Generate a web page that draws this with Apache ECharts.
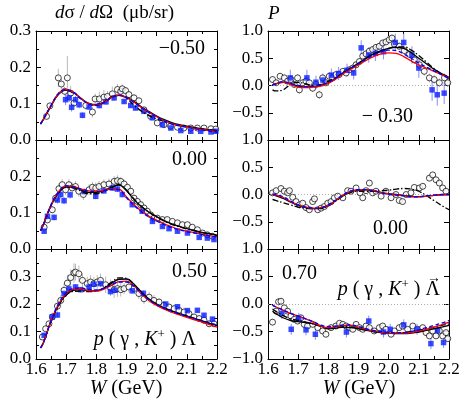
<!DOCTYPE html>
<html>
<head>
<meta charset="utf-8">
<script src="https://cdn.jsdelivr.net/npm/echarts@6/dist/echarts.min.js"></script>
<style>
html, body { margin: 0; padding: 0; background: #fff; }
#chart { width: 463px; height: 405px; }
</style>
</head>
<body>
<div id="chart"></div>
<script>
// energy grid (GeV) on which the model curves are sampled
var W_GRID = [1.615,1.625,1.65,1.675,1.7,1.725,1.75,1.775,1.8,1.825,1.85,1.875,1.9,1.925,1.95,1.975,2.0,2.025,2.05,2.075,2.1,2.125,2.15,2.175,2.2];

// dsigma/dOmega, cos = -0.50
var L1_RED = [0.045,0.058,0.095,0.128,0.139,0.131,0.114,0.100,0.096,0.103,0.117,0.124,0.117,0.104,0.089,0.076,0.064,0.053,0.045,0.040,0.036,0.032,0.029,0.026,0.023];
var L1_BLK = [0.044,0.057,0.094,0.126,0.137,0.130,0.114,0.101,0.097,0.104,0.117,0.123,0.118,0.106,0.091,0.078,0.066,0.056,0.048,0.042,0.038,0.034,0.031,0.028,0.026];
var L1_BLU = [0.045,0.058,0.096,0.129,0.139,0.131,0.113,0.099,0.095,0.102,0.116,0.123,0.116,0.103,0.088,0.075,0.063,0.052,0.044,0.039,0.035,0.031,0.028,0.025,0.022];
var L1_DD  = [0.044,0.057,0.094,0.127,0.137,0.129,0.113,0.100,0.096,0.104,0.118,0.124,0.114,0.096,0.079,0.067,0.058,0.051,0.045,0.040,0.036,0.033,0.030,0.028,0.026];
var L1_CIRC = [[1.635,0.065,0.008],[1.646,0.094,0.008],[1.674,0.171,0.025],[1.684,0.154,0.015],[1.695,0.134,0.012],[1.704,0.171,0.06],[1.715,0.129,0.02],[1.726,0.102,0.012],[1.765,0.095,0.012],[1.787,0.077,0.015],[1.796,0.113,0.015],[1.81,0.113,0.02],[1.825,0.118,0.02],[1.837,0.12,0.015],[1.853,0.127,0.02],[1.87,0.139,0.015],[1.881,0.134,0.012],[1.886,0.141,0.012],[1.897,0.136,0.01],[1.908,0.125,0.01],[1.925,0.116,0.01],[1.941,0.108,0.008],[1.958,0.083,0.006],[1.98,0.065,0.005],[2.002,0.047,0.004],[2.024,0.042,0.004],[2.046,0.038,0.004],[2.069,0.035,0.004],[2.09,0.033,0.004],[2.113,0.033,0.004],[2.135,0.033,0.004],[2.157,0.033,0.004],[2.18,0.031,0.004],[2.196,0.03,0.004]];
var L1_SQ = [[1.698,0.111,0.015],[1.71,0.116,0.012],[1.718,0.09,0.012],[1.731,0.111,0.01],[1.743,0.097,0.01],[1.754,0.068,0.008],[1.776,0.091,0.008],[1.81,0.095,0.008],[1.832,0.105,0.008],[1.859,0.116,0.008],[1.892,0.106,0.007],[1.914,0.095,0.007],[1.93,0.088,0.006],[1.958,0.079,0.006],[1.986,0.061,0.005],[2.019,0.042,0.004],[2.047,0.033,0.004],[2.08,0.026,0.003],[2.113,0.024,0.003],[2.146,0.024,0.003],[2.18,0.022,0.003],[2.196,0.024,0.003]];

// dsigma/dOmega, cos = 0.00
var L2_RED = [0.050,0.068,0.122,0.158,0.174,0.172,0.165,0.160,0.159,0.161,0.166,0.165,0.143,0.122,0.104,0.090,0.079,0.069,0.061,0.054,0.049,0.045,0.041,0.037,0.034];
var L2_BLK = [0.050,0.068,0.120,0.155,0.171,0.170,0.162,0.156,0.156,0.161,0.170,0.176,0.160,0.136,0.116,0.101,0.089,0.078,0.069,0.062,0.056,0.051,0.046,0.042,0.038];
var L2_BLU = [0.050,0.068,0.122,0.158,0.174,0.171,0.164,0.159,0.158,0.160,0.165,0.163,0.141,0.120,0.102,0.088,0.077,0.067,0.059,0.053,0.048,0.044,0.040,0.036,0.033];
var L2_DD  = [0.050,0.068,0.120,0.155,0.170,0.168,0.159,0.152,0.152,0.158,0.168,0.177,0.162,0.138,0.117,0.101,0.088,0.077,0.068,0.061,0.055,0.050,0.045,0.041,0.037];
var L2_CIRC = [[1.627,0.06,0.006],[1.638,0.08,0.008],[1.654,0.108,0.01],[1.665,0.14,0.012],[1.676,0.166,0.015],[1.687,0.177,0.015],[1.698,0.163,0.015],[1.709,0.177,0.015],[1.72,0.168,0.015],[1.731,0.172,0.015],[1.742,0.159,0.015],[1.757,0.15,0.015],[1.776,0.163,0.015],[1.787,0.17,0.015],[1.798,0.168,0.015],[1.809,0.172,0.015],[1.825,0.177,0.015],[1.842,0.179,0.015],[1.859,0.186,0.015],[1.87,0.188,0.015],[1.881,0.186,0.012],[1.892,0.179,0.012],[1.903,0.17,0.01],[1.914,0.159,0.01],[1.925,0.14,0.01],[1.936,0.131,0.01],[1.947,0.122,0.01],[1.958,0.113,0.008],[1.969,0.104,0.008],[1.98,0.094,0.008],[1.991,0.085,0.008],[2.002,0.085,0.007],[2.019,0.081,0.007],[2.035,0.081,0.007],[2.052,0.076,0.006],[2.069,0.072,0.006],[2.085,0.067,0.006],[2.102,0.067,0.006],[2.118,0.06,0.005],[2.135,0.053,0.005],[2.152,0.044,0.005],[2.168,0.039,0.004],[2.185,0.035,0.004]];
var L2_SQ = [[1.627,0.049,0.006],[1.638,0.09,0.008],[1.66,0.087,0.008],[1.671,0.135,0.01],[1.682,0.15,0.01],[1.693,0.133,0.01],[1.713,0.149,0.01],[1.76,0.158,0.008],[1.798,0.145,0.008],[1.825,0.16,0.008],[1.853,0.168,0.008],[1.87,0.165,0.008],[1.886,0.15,0.008],[1.919,0.122,0.007],[1.952,0.104,0.006],[1.986,0.076,0.005],[2.019,0.062,0.004],[2.041,0.056,0.004],[2.069,0.049,0.004],[2.102,0.044,0.004],[2.141,0.032,0.003],[2.168,0.03,0.003],[2.19,0.026,0.003]];

// dsigma/dOmega, cos = 0.50
var L3_RED = [0.040,0.060,0.140,0.200,0.238,0.254,0.254,0.249,0.247,0.254,0.268,0.281,0.283,0.265,0.236,0.212,0.195,0.181,0.170,0.160,0.151,0.143,0.134,0.125,0.116];
var L3_BLK = [0.040,0.060,0.138,0.196,0.234,0.250,0.252,0.248,0.248,0.258,0.275,0.290,0.291,0.272,0.243,0.218,0.200,0.186,0.175,0.165,0.156,0.148,0.139,0.130,0.122];
var L3_BLU = [0.040,0.060,0.140,0.202,0.241,0.257,0.258,0.253,0.251,0.257,0.270,0.280,0.280,0.264,0.238,0.215,0.198,0.185,0.174,0.165,0.156,0.148,0.140,0.132,0.124];
var L3_DD  = [0.040,0.060,0.137,0.195,0.232,0.246,0.247,0.245,0.247,0.259,0.279,0.295,0.293,0.270,0.240,0.215,0.197,0.183,0.172,0.163,0.154,0.146,0.138,0.129,0.120];
var L3_CIRC = [[1.621,0.08,0.01],[1.632,0.11,0.012],[1.643,0.128,0.012],[1.654,0.153,0.015],[1.671,0.192,0.02],[1.682,0.213,0.02],[1.693,0.25,0.025],[1.704,0.276,0.03],[1.715,0.296,0.03],[1.726,0.313,0.035],[1.731,0.316,0.03],[1.742,0.31,0.03],[1.754,0.286,0.025],[1.77,0.274,0.025],[1.781,0.28,0.025],[1.792,0.274,0.025],[1.803,0.28,0.025],[1.814,0.286,0.025],[1.831,0.27,0.03],[1.847,0.259,0.03],[1.859,0.252,0.03],[1.87,0.256,0.03],[1.881,0.252,0.025],[1.892,0.256,0.02],[1.908,0.262,0.02],[1.925,0.256,0.02],[1.941,0.238,0.02],[1.958,0.219,0.02],[1.975,0.225,0.02],[1.991,0.213,0.02],[2.008,0.207,0.015],[2.024,0.195,0.015],[2.041,0.189,0.015],[2.058,0.183,0.015],[2.074,0.177,0.015],[2.091,0.171,0.015],[2.107,0.165,0.012],[2.124,0.153,0.012],[2.141,0.147,0.012],[2.157,0.141,0.012],[2.174,0.128,0.012],[2.19,0.128,0.012]];
var L3_SQ = [[1.627,0.086,0.01],[1.654,0.153,0.01],[1.671,0.16,0.01],[1.693,0.238,0.012],[1.709,0.255,0.01],[1.731,0.262,0.01],[1.748,0.252,0.01],[1.776,0.262,0.01],[1.792,0.272,0.01],[1.814,0.274,0.01],[1.847,0.245,0.01],[1.862,0.25,0.01],[1.919,0.248,0.01],[1.956,0.239,0.01],[2.03,0.2,0.008],[2.069,0.19,0.008],[2.102,0.176,0.008],[2.135,0.177,0.008],[2.157,0.159,0.008],[2.185,0.145,0.008]];

// polarisation P, cos = -0.30
var R1_RED = [0.01,0.03,0.06,0.02,-0.03,-0.04,-0.03,-0.01,0.04,0.12,0.22,0.30,0.38,0.46,0.53,0.58,0.60,0.59,0.53,0.45,0.38,0.32,0.26,0.20,0.14];
var R1_BLK = [0.01,0.03,0.06,0.03,-0.01,-0.03,-0.02,0.00,0.05,0.13,0.23,0.32,0.41,0.50,0.58,0.64,0.68,0.70,0.68,0.60,0.50,0.40,0.30,0.22,0.15];
var R1_BLU = [0.01,0.03,0.07,0.04,0.00,-0.02,-0.01,0.01,0.06,0.14,0.24,0.32,0.40,0.48,0.56,0.62,0.65,0.64,0.58,0.50,0.41,0.34,0.27,0.20,0.13];
var R1_DD  = [-0.08,-0.10,-0.08,0.02,0.06,0.03,0.00,0.02,0.08,0.15,0.24,0.32,0.40,0.49,0.57,0.63,0.68,0.71,0.71,0.65,0.55,0.43,0.31,0.21,0.13];
var R1_CIRC = [[1.615,0.11,0.06],[1.627,0.05,0.06],[1.64,0.17,0.06],[1.654,0.14,0.06],[1.665,0.08,0.06],[1.676,0.11,0.06],[1.687,0.02,0.06],[1.698,0.14,0.07],[1.704,-0.08,0.07],[1.715,0.05,0.07],[1.726,0.08,0.07],[1.737,0.05,0.07],[1.748,-0.05,0.07],[1.759,0.02,0.07],[1.77,-0.17,0.08],[1.781,0.14,0.07],[1.792,0.05,0.07],[1.803,0.17,0.07],[1.814,0.14,0.06],[1.825,0.2,0.06],[1.836,0.2,0.06],[1.848,0.26,0.06],[1.859,0.23,0.06],[1.87,0.29,0.06],[1.881,0.32,0.06],[1.892,0.38,0.06],[1.903,0.44,0.06],[1.914,0.54,0.06],[1.925,0.58,0.06],[1.936,0.63,0.06],[1.947,0.66,0.06],[1.958,0.7,0.06],[1.969,0.72,0.06],[1.98,0.78,0.06],[1.991,0.8,0.06],[2.002,0.84,0.07],[2.011,0.87,0.07],[2.019,0.76,0.07],[2.035,0.72,0.07],[2.052,0.64,0.07],[2.069,0.57,0.07],[2.085,0.47,0.07],[2.102,0.38,0.08],[2.118,0.26,0.08],[2.135,0.14,0.08],[2.151,0.11,0.08],[2.168,0.05,0.08],[2.185,0.14,0.08],[2.196,0.05,0.08]];
var R1_SQ = [[1.674,0.14,0.15],[1.729,0.14,0.15],[1.759,0.06,0.12],[1.782,0.10,0.12],[1.81,0.19,0.12],[1.834,0.22,0.12],[1.862,0.28,0.12],[1.884,0.23,0.12],[1.909,0.69,0.14],[1.934,0.56,0.14],[1.956,0.59,0.14],[1.983,0.62,0.14],[2.022,0.79,0.16],[2.05,0.79,0.16],[2.077,0.56,0.16],[2.1,0.32,0.18],[2.144,-0.08,0.2],[2.161,-0.17,0.2],[2.184,-0.14,0.2]];

// polarisation P, cos = 0.00
var R2_RED = [0.00,-0.01,-0.05,-0.13,-0.19,-0.23,-0.25,-0.24,-0.20,-0.11,-0.01,0.06,0.085,0.09,0.07,0.035,0.01,-0.005,-0.02,-0.045,-0.045,-0.03,-0.015,-0.005,0.00];
var R2_BLK = [0.00,-0.02,-0.07,-0.14,-0.20,-0.24,-0.26,-0.25,-0.20,-0.11,-0.02,0.05,0.08,0.085,0.07,0.04,0.015,0.00,-0.015,-0.035,-0.04,-0.03,-0.015,-0.005,0.00];
var R2_BLU = [0.01,0.00,-0.04,-0.12,-0.19,-0.23,-0.25,-0.24,-0.19,-0.10,0.00,0.065,0.09,0.09,0.065,0.03,0.005,-0.01,-0.025,-0.045,-0.04,-0.025,-0.01,0.00,0.00];
var R2_DD  = [-0.09,-0.11,-0.15,-0.19,-0.23,-0.25,-0.26,-0.26,-0.21,-0.12,-0.02,0.04,0.06,0.06,0.06,0.07,0.08,0.10,0.11,0.10,0.06,-0.02,-0.11,-0.20,-0.28];
var R2_CIRC = [[1.615,0.03,0.04],[1.627,0.07,0.04],[1.643,0.11,0.04],[1.654,0.06,0.04],[1.665,0.03,0.04],[1.671,0.07,0.04],[1.682,-0.05,0.04],[1.693,-0.13,0.04],[1.704,-0.19,0.04],[1.715,-0.16,0.04],[1.726,-0.24,0.04],[1.737,-0.28,0.04],[1.748,-0.13,0.04],[1.754,-0.08,0.04],[1.765,-0.28,0.04],[1.776,-0.25,0.04],[1.787,-0.22,0.04],[1.798,-0.16,0.04],[1.809,-0.13,0.04],[1.82,-0.06,0.04],[1.831,-0.03,0.04],[1.848,-0.06,0.04],[1.864,0.07,0.04],[1.875,0.06,0.04],[1.892,0.12,0.04],[1.905,0.03,0.04],[1.914,-0.06,0.04],[1.925,0.07,0.04],[1.936,0.21,0.05],[1.947,0.03,0.04],[1.958,0.06,0.04],[1.975,-0.03,0.04],[1.991,0.06,0.04],[2.008,-0.06,0.04],[2.024,0.0,0.04],[2.035,-0.11,0.04],[2.046,-0.13,0.04],[2.058,0.0,0.04],[2.074,0.03,0.04],[2.085,0.13,0.05],[2.102,0.12,0.05],[2.113,0.15,0.05],[2.135,0.3,0.05],[2.146,0.36,0.05],[2.157,0.27,0.05],[2.168,0.21,0.05],[2.179,0.12,0.05],[2.19,0.06,0.05]];
var R2_SQ = [];

// polarisation P, cos = 0.70
var R3_RED = [-0.02,-0.05,-0.11,-0.17,-0.22,-0.27,-0.33,-0.40,-0.43,-0.41,-0.39,-0.39,-0.42,-0.46,-0.49,-0.51,-0.53,-0.53,-0.53,-0.52,-0.49,-0.46,-0.42,-0.38,-0.33];
var R3_BLK = [-0.13,-0.17,-0.25,-0.30,-0.32,-0.34,-0.36,-0.40,-0.45,-0.44,-0.42,-0.43,-0.45,-0.48,-0.50,-0.52,-0.53,-0.54,-0.54,-0.53,-0.51,-0.48,-0.45,-0.42,-0.39];
var R3_BLU = [-0.02,-0.05,-0.11,-0.17,-0.22,-0.27,-0.32,-0.38,-0.41,-0.40,-0.38,-0.38,-0.41,-0.45,-0.48,-0.50,-0.52,-0.52,-0.52,-0.50,-0.47,-0.43,-0.39,-0.35,-0.30];
var R3_DD  = [-0.09,-0.13,-0.21,-0.27,-0.30,-0.33,-0.36,-0.41,-0.44,-0.43,-0.41,-0.42,-0.44,-0.47,-0.50,-0.52,-0.53,-0.53,-0.52,-0.50,-0.48,-0.45,-0.42,-0.39,-0.36];
var R3_CIRC = [[1.615,-0.33,0.06],[1.627,-0.13,0.06],[1.635,0.04,0.06],[1.643,0.05,0.06],[1.654,-0.07,0.06],[1.665,-0.13,0.05],[1.676,-0.22,0.05],[1.687,-0.28,0.05],[1.698,-0.31,0.05],[1.709,-0.25,0.05],[1.72,-0.37,0.05],[1.731,-0.4,0.05],[1.748,-0.37,0.05],[1.765,-0.43,0.05],[1.781,-0.49,0.05],[1.792,-0.55,0.05],[1.809,-0.43,0.05],[1.825,-0.4,0.05],[1.837,-0.35,0.05],[1.848,-0.37,0.05],[1.859,-0.4,0.05],[1.87,-0.43,0.05],[1.881,-0.46,0.05],[1.892,-0.37,0.05],[1.903,-0.43,0.05],[1.914,-0.46,0.05],[1.925,-0.4,0.05],[1.936,-0.43,0.05],[1.952,-0.49,0.05],[1.969,-0.43,0.05],[1.98,-0.4,0.05],[1.991,-0.46,0.05],[2.008,-0.55,0.05],[2.019,-0.49,0.05],[2.035,-0.43,0.05],[2.046,-0.4,0.05],[2.063,-0.46,0.05],[2.08,-0.4,0.05],[2.096,-0.46,0.05],[2.113,-0.43,0.05],[2.124,-0.52,0.05],[2.135,-0.58,0.05],[2.146,-0.49,0.05],[2.157,-0.58,0.05],[2.168,-0.49,0.05],[2.179,-0.58,0.05],[2.19,-0.52,0.05],[2.196,-0.63,0.05]];
var R3_SQ = [[1.646,-0.17,0.1],[1.677,-0.46,0.1],[1.702,-0.26,0.1],[1.726,-0.47,0.1],[1.757,-0.55,0.1],[1.86,-0.51,0.1],[1.934,-0.31,0.1],[1.983,-0.51,0.1],[2.005,-0.46,0.1],[2.05,-0.38,0.1],[2.094,-0.46,0.1],[2.14,-0.72,0.1],[2.162,-0.48,0.1],[2.182,-0.7,0.1]];

var FONT = '"Liberation Serif", "DejaVu Serif", serif';

var panels = [
    { left: 36, top: 31, height: 109, ymin: 0, ymax: 0.3, step: 0.1, minor: true, showMin: true, showMax: true, xlab: false, zero: false,
      red: L1_RED, blk: L1_BLK, blu: L1_BLU, dd: L1_DD, circ: L1_CIRC, sq: L1_SQ },
    { left: 36, top: 140, height: 109, ymin: 0, ymax: 0.3, step: 0.1, minor: true, showMin: true, showMax: false, xlab: false, zero: false,
      red: L2_RED, blk: L2_BLK, blu: L2_BLU, dd: L2_DD, circ: L2_CIRC, sq: L2_SQ },
    { left: 36, top: 249, height: 110, ymin: 0, ymax: 0.4, step: 0.1, minor: true, showMin: true, showMax: false, xlab: true, zero: false,
      red: L3_RED, blk: L3_BLK, blu: L3_BLU, dd: L3_DD, circ: L3_CIRC, sq: L3_SQ },
    { left: 268, top: 31, height: 109, ymin: -1, ymax: 1, step: 0.5, minor: false, showMin: false, showMax: true, xlab: false, zero: true,
      red: R1_RED, blk: R1_BLK, blu: R1_BLU, dd: R1_DD, circ: R1_CIRC, sq: R1_SQ },
    { left: 268, top: 140, height: 109, ymin: -1, ymax: 1, step: 0.5, minor: false, showMin: false, showMax: true, xlab: false, zero: true,
      red: R2_RED, blk: R2_BLK, blu: R2_BLU, dd: R2_DD, circ: R2_CIRC, sq: R2_SQ },
    { left: 268, top: 249, height: 110, ymin: -1, ymax: 1, step: 0.5, minor: false, showMin: true, showMax: true, xlab: true, zero: true,
      red: R3_RED, blk: R3_BLK, blu: R3_BLU, dd: R3_DD, circ: R3_CIRC, sq: R3_SQ }
];

function fmt(v) {
    return v.toFixed(1).replace('-', '\u2212');
}

function curve(arr) {
    return W_GRID.map(function (w, j) { return [w, arr[j]]; });
}

function errSeries(i, data, color) {
    return {
        type: 'custom', xAxisIndex: 2 * i, yAxisIndex: 2 * i, data: data, clip: true, silent: true, z: 1,
        encode: { x: 0, y: 1 },
        renderItem: function (params, api) {
            var x = api.value(0), y = api.value(1), e = api.value(2);
            var a = api.coord([x, y - e]), b = api.coord([x, y + e]);
            return { type: 'line', shape: { x1: a[0], y1: a[1], x2: b[0], y2: b[1] }, style: { stroke: color, lineWidth: 1 } };
        }
    };
}

function lineSeries(i, arr, color, type, z) {
    return {
        type: 'line', xAxisIndex: 2 * i, yAxisIndex: 2 * i, data: curve(arr), smooth: 0.4,
        symbol: 'none', clip: true, silent: true, z: z,
        lineStyle: { color: color, width: 1.3, type: type }
    };
}

var grids = [], xAxes = [], yAxes = [], series = [];
var tickStyle = { color: '#000', width: 1 };
panels.forEach(function (p, i) {
    grids.push({ left: p.left, top: p.top, width: 181, height: p.height });
    var xBase = {
        type: 'value', gridIndex: i, min: 1.6, max: 2.2, interval: 0.1,
        axisLine: { show: true, onZero: false, lineStyle: tickStyle },
        axisTick: { show: true, inside: true, length: 5, lineStyle: tickStyle },
        minorTick: { show: true, splitNumber: 2, length: 3, lineStyle: tickStyle },
        splitLine: { show: false }
    };
    xAxes.push(Object.assign({}, xBase, {
        position: 'bottom',
        axisLabel: { show: p.xlab, margin: 2, color: '#000', fontFamily: FONT, fontSize: 17,
            formatter: function (v) { return v.toFixed(1); } }
    }));
    xAxes.push(Object.assign({}, xBase, { position: 'top', axisLabel: { show: false } }));
    var yBase = {
        type: 'value', gridIndex: i, min: p.ymin, max: p.ymax, interval: p.step,
        axisLine: { show: true, onZero: false, lineStyle: tickStyle },
        axisTick: { show: true, inside: true, length: 5, lineStyle: tickStyle },
        minorTick: { show: p.minor, splitNumber: 2, length: 3, lineStyle: tickStyle },
        splitLine: { show: false }
    };
    yAxes.push(Object.assign({}, yBase, {
        position: 'left',
        axisLabel: { show: true, margin: 5, color: '#000', fontFamily: FONT, fontSize: 17,
            showMinLabel: p.showMin, showMaxLabel: p.showMax, formatter: fmt }
    }));
    yAxes.push(Object.assign({}, yBase, { position: 'right', axisLabel: { show: false } }));

    series.push(errSeries(i, p.circ, '#b9b9b9'));
    series.push({
        type: 'scatter', xAxisIndex: 2 * i, yAxisIndex: 2 * i, data: p.circ, encode: { x: 0, y: 1 },
        symbol: 'circle', symbolSize: 6, silent: true, z: 2,
        itemStyle: { color: '#fff', borderColor: '#000', borderWidth: 0.9 }
    });
    series.push(errSeries(i, p.sq, '#8c8cf5'));
    series.push({
        type: 'scatter', xAxisIndex: 2 * i, yAxisIndex: 2 * i, data: p.sq, encode: { x: 0, y: 1 },
        symbol: 'rect', symbolSize: 5.5, silent: true, z: 3,
        itemStyle: { color: '#0a1eff' }
    });
    var dd = lineSeries(i, p.dd, '#000', [6, 2, 1.5, 2], 4);
    if (p.zero) {
        dd.markLine = {
            silent: true, symbol: 'none', label: { show: false },
            lineStyle: { color: '#999', type: [1, 2], width: 0.8 },
            data: [{ yAxis: 0 }]
        };
    }
    series.push(dd);
    series.push(lineSeries(i, p.blk, '#000', 'solid', 5));
    series.push(lineSeries(i, p.red, '#ff0000', 'solid', 6));
    series.push(lineSeries(i, p.blu, '#0000ff', [4, 2.5], 7));
});

function txt(x, y, text, size, align, rich) {
    return {
        type: 'text', x: x, y: y, silent: true, z: 100,
        style: { text: text, fill: '#000', fontFamily: FONT, fontSize: size, align: align, verticalAlign: 'middle', rich: rich }
    };
}

var it19 = { i: { fontStyle: 'italic', fontFamily: FONT, fontSize: 19 }, n: { fontFamily: FONT, fontSize: 19 } };
var it20 = { i: { fontStyle: 'italic', fontFamily: FONT, fontSize: 20 }, n: { fontFamily: FONT, fontSize: 20 } };
var reac = {
    i: { fontStyle: 'italic', fontFamily: FONT, fontSize: 20 },
    n: { fontFamily: FONT, fontSize: 20 },
    sup: { fontFamily: FONT, fontSize: 13, padding: [0, 0, 10, 0] }
};

var graphics = [
    txt(174, 13, '{i|d}{n|σ / }{i|d}{n|Ω  (μb/sr)}', 19, 'right', it19),
    txt(268, 14, '{i|P}', 19, 'left', it19),
    txt(205, 49, '\u22120.50', 20, 'right'),
    txt(207, 160, '0.00', 20, 'right'),
    txt(207, 272, '0.50', 20, 'right'),
    txt(413, 117, '\u2212 0.30', 20, 'right'),
    txt(408, 229, '0.00', 20, 'right'),
    txt(282, 274, '0.70', 20, 'left'),
    txt(196, 340, '{i|p}{n| ( γ , }{i|K}{sup|+}{n| ) Λ}', 20, 'right', reac),
    txt(440, 290, '{i|p}{n| ( γ , }{i|K}{sup|+}{n| ) Λ}', 20, 'right', reac),
    txt(434, 278, '\u2192', 14, 'center'),
    txt(126, 389, '{i|W}{n| (GeV)}', 20, 'center', it20),
    txt(359, 389, '{i|W}{n| (GeV)}', 20, 'center', it20)
];

var chart = echarts.init(document.getElementById('chart'), null, { renderer: 'canvas' });
chart.setOption({
    animation: false,
    backgroundColor: '#fff',
    grid: grids,
    xAxis: xAxes,
    yAxis: yAxes,
    series: series,
    graphic: graphics
});
</script>
</body>
</html>
